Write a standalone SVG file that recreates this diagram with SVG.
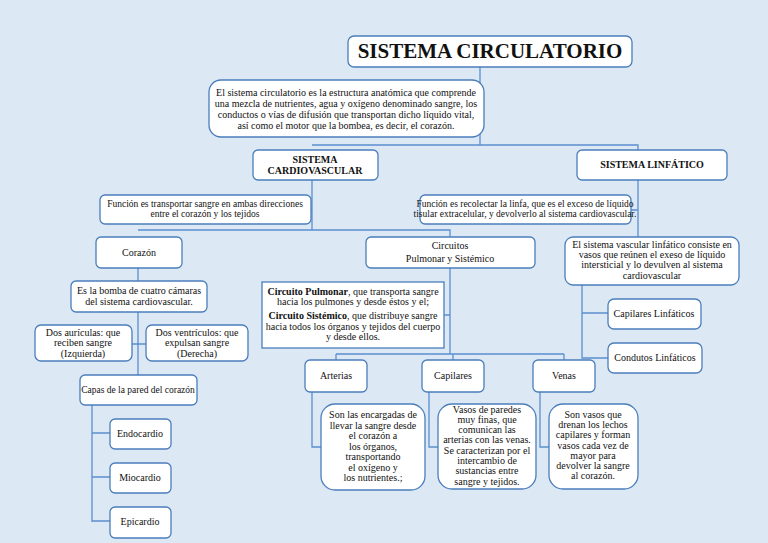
<svg xmlns="http://www.w3.org/2000/svg" width="768" height="543" viewBox="0 0 768 543">
<style>
.b{fill:#fff;stroke:#4a7ebb;stroke-width:1.3}
.c{fill:none;stroke:#5b8fcf;stroke-width:1.3}
text{font-family:"Liberation Serif",serif;font-size:10px;fill:#111;text-anchor:middle}
.h{font-weight:bold}
</style>
<rect width="768" height="543" fill="#dde8f5"/>
<g id="connectors" class="c">
<path d="M480 67V145M480 108H484M312 145H638V150M312 180V230M311 210H312M138 230H450V237"/>
<path d="M138 268V375M138 344H132M138 344H146"/>
<path d="M92 405V522M92 433H110M92 477H110M92 521H110"/>
<path d="M450 268V354M444 315H450M336 354H564M336 354V360M453 354V360M564 354V360"/>
<path d="M312 392V447H321M429 392V447H438M540 392V447H549"/>
<path d="M638 180V237M631 210H638M582 285V358H608M582 313H608"/>
</g>
<g id="title"><rect class="b" x="348" y="36" width="284" height="31" rx="6"/><text x="490" y="58" class="h" style="font-size:21px">SISTEMA CIRCULATORIO</text></g>
<g id="intro"><rect class="b" x="209" y="80" width="275" height="57" rx="12"/>
<text x="346" y="96">El sistema circulatorio es la estructura anatómica que comprende</text>
<text x="346" y="107">una mezcla de nutrientes, agua y oxígeno denominado sangre, los</text>
<text x="346" y="118">conductos o vías de difusión que transportan dicho líquido vital,</text>
<text x="346" y="129">así como el motor que la bombea, es decir, el corazón.</text></g>
<g id="cardio"><rect class="b" x="253" y="150" width="125" height="30" rx="5"/><text x="315" y="163" class="h">SISTEMA</text><text x="315" y="174" class="h">CARDIOVASCULAR</text></g>
<g id="linf"><rect class="b" x="577" y="150" width="150" height="30" rx="5"/><text x="652" y="168" class="h">SISTEMA LINFÁTICO</text></g>
<g id="funcCardio"><rect class="b" x="100" y="195" width="211" height="29" rx="5"/><text x="205" y="207" style="font-size:9.5px">Función es transportar sangre en ambas direcciones</text><text x="205" y="217" style="font-size:9.5px">entre el corazón y los tejidos</text></g>
<g id="funcLinf"><rect class="b" x="420" y="195" width="211" height="29" rx="5"/><text x="525" y="207" style="font-size:9.5px">Función es recolectar la linfa, que es el exceso de líquido</text><text x="525" y="217" style="font-size:9.5px">tisular extracelular, y devolverlo al sistema cardiovascular.</text></g>
<g id="corazon"><rect class="b" x="96" y="237" width="86" height="31" rx="5"/><text x="139" y="256">Corazón</text></g>
<g id="circuitos"><rect class="b" x="366" y="237" width="169" height="31" rx="5"/><text x="450" y="249">Circuitos</text><text x="450" y="262">Pulmonar  y Sistémico</text></g>
<g id="bomba"><rect class="b" x="71" y="281" width="136" height="31" rx="5"/><text x="139" y="294">Es la bomba de cuatro cámaras</text><text x="139" y="305">del sistema cardiovascular.</text></g>
<g id="auriculas"><rect class="b" x="35" y="325" width="97" height="36" rx="6"/><text x="83" y="336">Dos aurículas: que</text><text x="83" y="346">reciben sangre</text><text x="83" y="357">(Izquierda)</text></g>
<g id="ventriculos"><rect class="b" x="146" y="325" width="102" height="36" rx="6"/><text x="197" y="336">Dos ventrículos: que</text><text x="197" y="346">expulsan sangre</text><text x="197" y="357">(Derecha)</text></g>
<g id="capas"><rect class="b" x="80" y="375" width="117" height="30" rx="5"/><text x="138" y="393" style="font-size:9.5px">Capas de la pared del corazón</text></g>
<g id="endo"><rect class="b" x="110" y="419" width="61" height="30" rx="5"/><text x="140" y="437">Endocardio</text></g>
<g id="mio"><rect class="b" x="110" y="463" width="61" height="30" rx="5"/><text x="140" y="481">Miocardio</text></g>
<g id="epi"><rect class="b" x="110" y="507" width="61" height="31" rx="5"/><text x="140" y="525">Epicardio</text></g>
<g id="circDesc"><rect class="b" x="262" y="282" width="182" height="66" rx="0"/>
<text x="353" y="295"><tspan font-weight="bold">Circuito Pulmonar</tspan>, que transporta sangre</text>
<text x="353" y="305">hacia los pulmones y desde éstos y el;</text>
<text x="353" y="319"><tspan font-weight="bold">Circuito Sistémico</tspan>, que distribuye sangre</text>
<text x="353" y="330">hacia todos los órganos y tejidos del cuerpo</text>
<text x="353" y="340">y desde ellos.</text></g>
<g id="linfDesc"><rect class="b" x="565" y="237" width="174" height="48" rx="8"/>
<text x="652" y="248">El sistema vascular linfático consiste en</text><text x="652" y="258">vasos que reúnen el exeso de líquido</text><text x="652" y="268">intersticial y lo devulven al sistema</text><text x="652" y="279">cardiovascular</text></g>
<g id="capLinf"><rect class="b" x="608" y="299" width="93" height="30" rx="6"/><text x="654" y="317">Capilares Linfáticos</text></g>
<g id="condLinf"><rect class="b" x="608" y="343" width="94" height="30" rx="6"/><text x="655" y="361">Condutos Linfáticos</text></g>
<g id="arterias"><rect class="b" x="305" y="360" width="62" height="32" rx="5"/><text x="336" y="379">Arterias</text></g>
<g id="capilares"><rect class="b" x="422" y="360" width="62" height="32" rx="5"/><text x="453" y="379">Capilares</text></g>
<g id="venas"><rect class="b" x="533" y="360" width="62" height="32" rx="5"/><text x="564" y="379">Venas</text></g>
<g id="artDesc"><rect class="b" x="321" y="404" width="104" height="86" rx="14"/>
<text x="373" y="418">Son las encargadas de</text><text x="373" y="429">llevar la sangre desde</text><text x="373" y="439">el corazón a</text><text x="373" y="450">los órganos,</text><text x="373" y="460">transportando</text><text x="373" y="471">el oxígeno  y</text><text x="373" y="481">los nutrientes.;</text></g>
<g id="capDesc"><rect class="b" x="438" y="404" width="98" height="85" rx="14"/>
<text x="487" y="413">Vasos de paredes</text><text x="487" y="423">muy finas, que</text><text x="487" y="433">comunican las</text><text x="487" y="443">arterias con las venas.</text><text x="487" y="454">Se caracterizan por el</text><text x="487" y="464">intercambio de</text><text x="487" y="474">sustancias entre</text><text x="487" y="485">sangre y tejidos.</text></g>
<g id="venDesc"><rect class="b" x="549" y="404" width="89" height="85" rx="14"/>
<text x="593" y="418">Son vasos que</text><text x="593" y="428">drenan los lechos</text><text x="593" y="438">capilares y forman</text><text x="593" y="449">vasos cada vez de</text><text x="593" y="459">mayor para</text><text x="593" y="469">devolver la sangre</text><text x="593" y="479">al corazón.</text></g>
</svg>
